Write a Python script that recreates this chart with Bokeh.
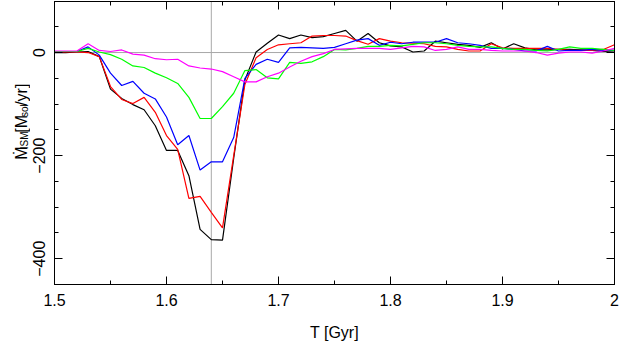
import math
from bokeh.plotting import figure
from bokeh.layouts import row
from bokeh.core.properties import value
from bokeh.models import (SingleIntervalTicker, LinearAxis, CustomJSTickFormatter,
                          Span, Range1d)
from bokeh.embed import file_html
from bokeh.resources import INLINE

# ---- data ----
t = [1.50, 1.51, 1.52, 1.53, 1.54, 1.55, 1.56, 1.57, 1.58, 1.59,
     1.60, 1.61, 1.62, 1.63, 1.64, 1.65, 1.66, 1.67, 1.68, 1.69,
     1.70, 1.71, 1.72, 1.73, 1.74, 1.75, 1.76, 1.77, 1.78, 1.79,
     1.80, 1.81, 1.82, 1.83, 1.84, 1.85, 1.86, 1.87, 1.88, 1.89,
     1.90, 1.91, 1.92, 1.93, 1.94, 1.95, 1.96, 1.97, 1.98, 1.99, 2.00]

mdot_black = [0, 0, 1, 2, -8, -71, -89, -101, -111, -142,
              -190, -190, -239, -343, -363, -364, -205, -53, 1, 18,
              34, 27, 34, 29, 31, 37, 43, 22, 37, 19,
              13, 11, 1, 3, 22, 19, 16, 14, 10, 19,
              7, 17, 9, 5, 5, 6, 6, 5, 4, 2, 3]

mdot_red = [1, 1, 1, 0, -8, -66, -91, -99, -87, -116,
            -161, -188, -283, -279, -310, -340, -200, -62, -10, 6,
            15, 17, 19, 32, 33, 33, 32, 23, 16, 27,
            22, 19, 18, 17, 12, 11, 6, 3, 3, 17,
            9, 8, 8, 8, 8, 6, 4, 4, 4, 6, 15]

mdot_blue = [2, 2, 2, 11, -5, -40, -64, -56, -79, -90,
             -125, -179, -161, -228, -212, -212, -165, -50, -23, -13,
             -19, 9, 10, 9, 8, 10, 17, 24, 27, 14,
             20, 17, 20, 20, 20, 27, 19, 17, 14, 8,
             8, 6, 3, 3, 12, 3, 4, 4, 6, 4, 4]

mdot_green = [2, 2, 2, 8, 1, -4, -13, -26, -29, -40,
              -49, -60, -87, -128, -128, -105, -79, -35, -33, -49,
              -51, -19, -21, -18, -8, 6, 5, 8, 12, 12,
              14, 13, 16, 19, 19, 17, 14, 12, 11, 11,
              8, 6, 6, 4, 3, 6, 11, 8, 8, 6, 4]

mdot_magenta = [3, 3, 3, 17, 4, 2, 5, -3, -5, -12,
                -14, -13, -26, -30, -32, -37, -47, -57, -57, -47,
                -40, -28, -17, -8, -2, 6, 7, 8, 8, 8,
                6, 9, 12, 11, 4, 6, 11, 6, 6, 4,
                3, 3, 3, 0, -5, -1, 1, 1, -1, 3, 8]

series = [
    (mdot_black, "#000000"),
    (mdot_red, "#ff0000"),
    (mdot_blue, "#0000ff"),
    (mdot_green, "#00ff00"),
    (mdot_magenta, "#ff00ff"),
]

t_marker = 1.64
x_label = "T [Gyr]"
y_label_parts = ["\u1e40", "ISM", "[M", "sol", "/yr]"]

FONT = "Liberation Sans"
LBL_W = 30
H = 343

p = figure(width=620 - LBL_W, height=H, output_backend="svg", toolbar_location=None,
           x_range=Range1d(1.5, 2.0), y_range=Range1d(-450, 99),
           x_axis_type=None, y_axis_type=None,
           min_border_left=54 - LBL_W, min_border_right=6, min_border_top=1,
           min_border_bottom=57)
p.background_fill_color = "white"
p.border_fill_color = "white"
p.outline_line_color = "black"
p.outline_line_width = 1
p.grid.visible = False

xticker = SingleIntervalTicker(interval=0.1, num_minor_ticks=2)
yticker = SingleIntervalTicker(interval=200, num_minor_ticks=4)
xfmt = CustomJSTickFormatter(code="return Number(tick.toFixed(2)).toString();")
yfmt = CustomJSTickFormatter(code="var v = Math.round(tick); return v < 0 ? '\\u2212' + Math.abs(v) : String(v);")
blank = CustomJSTickFormatter(code="return '';")


def style_axis(ax):
    ax.major_tick_in = 8
    ax.major_tick_out = 0
    ax.minor_tick_in = 4
    ax.minor_tick_out = 0
    ax.axis_line_color = "black"
    ax.major_tick_line_color = "black"
    ax.minor_tick_line_color = "black"
    ax.major_label_text_font = FONT
    ax.major_label_text_font_size = "16px"
    ax.major_label_text_color = "black"


xb = LinearAxis(ticker=xticker, formatter=xfmt, axis_label=x_label)
style_axis(xb)
xb.major_label_standoff = 9
xb.axis_label_standoff = 15
xb.axis_label_text_font = FONT
xb.axis_label_text_font_size = "16px"
xb.axis_label_text_font_style = "normal"
xb.axis_label_text_color = "black"
p.add_layout(xb, "below")

xt = LinearAxis(ticker=xticker, formatter=blank)
style_axis(xt)
xt.major_label_text_font_size = "0px"
xt.major_label_standoff = 0
p.add_layout(xt, "above")

yl = LinearAxis(ticker=yticker, formatter=yfmt)
style_axis(yl)
yl.major_label_orientation = "vertical"
yl.major_label_standoff = 9
p.add_layout(yl, "left")

yr = LinearAxis(ticker=yticker, formatter=blank)
style_axis(yr)
yr.major_label_text_font_size = "0px"
yr.major_label_standoff = 0
p.add_layout(yr, "right")

# reference lines
p.add_layout(Span(location=0, dimension="width", line_color="#a8a8a8",
                  line_width=1, level="underlay"))
p.add_layout(Span(location=t_marker, dimension="height", line_color="#a8a8a8",
                  line_width=1, level="underlay"))

for vals, col in series:
    p.line(t, vals, line_color=col, line_width=1.2)

# narrow side panel carrying the rotated y-axis title (with subscripts)
lab = figure(width=LBL_W, height=H, output_backend="svg", toolbar_location=None,
             x_range=Range1d(0, LBL_W), y_range=Range1d(0, H),
             x_axis_type=None, y_axis_type=None,
             min_border=0, min_border_left=0, min_border_right=0,
             min_border_top=0, min_border_bottom=0)
lab.outline_line_color = None
lab.grid.visible = False
lab.background_fill_color = "white"
lab.border_fill_color = "white"

# (x baseline, y start) in panel pixels
big = [(20.5, 151.3), (20.5, 184.0), (20.5, 216.5)]
small = [(23.5, 164.0), (23.5, 203.0)]
lab.text(x=[b[0] for b in big], y=[b[1] for b in big],
         text=[y_label_parts[0], y_label_parts[2], y_label_parts[4]],
         angle=math.pi / 2, text_align="left", text_baseline="alphabetic",
         text_font=value(FONT), text_font_size="16px", text_color="black")
lab.text(x=[s[0] for s in small], y=[s[1] for s in small],
         text=[y_label_parts[1], y_label_parts[3]],
         angle=math.pi / 2, text_align="left", text_baseline="alphabetic",
         text_font=value(FONT), text_font_size="10px", text_color="black")

layout = row(lab, p, spacing=0)
open("out.html", "w").write(file_html(layout, INLINE))
